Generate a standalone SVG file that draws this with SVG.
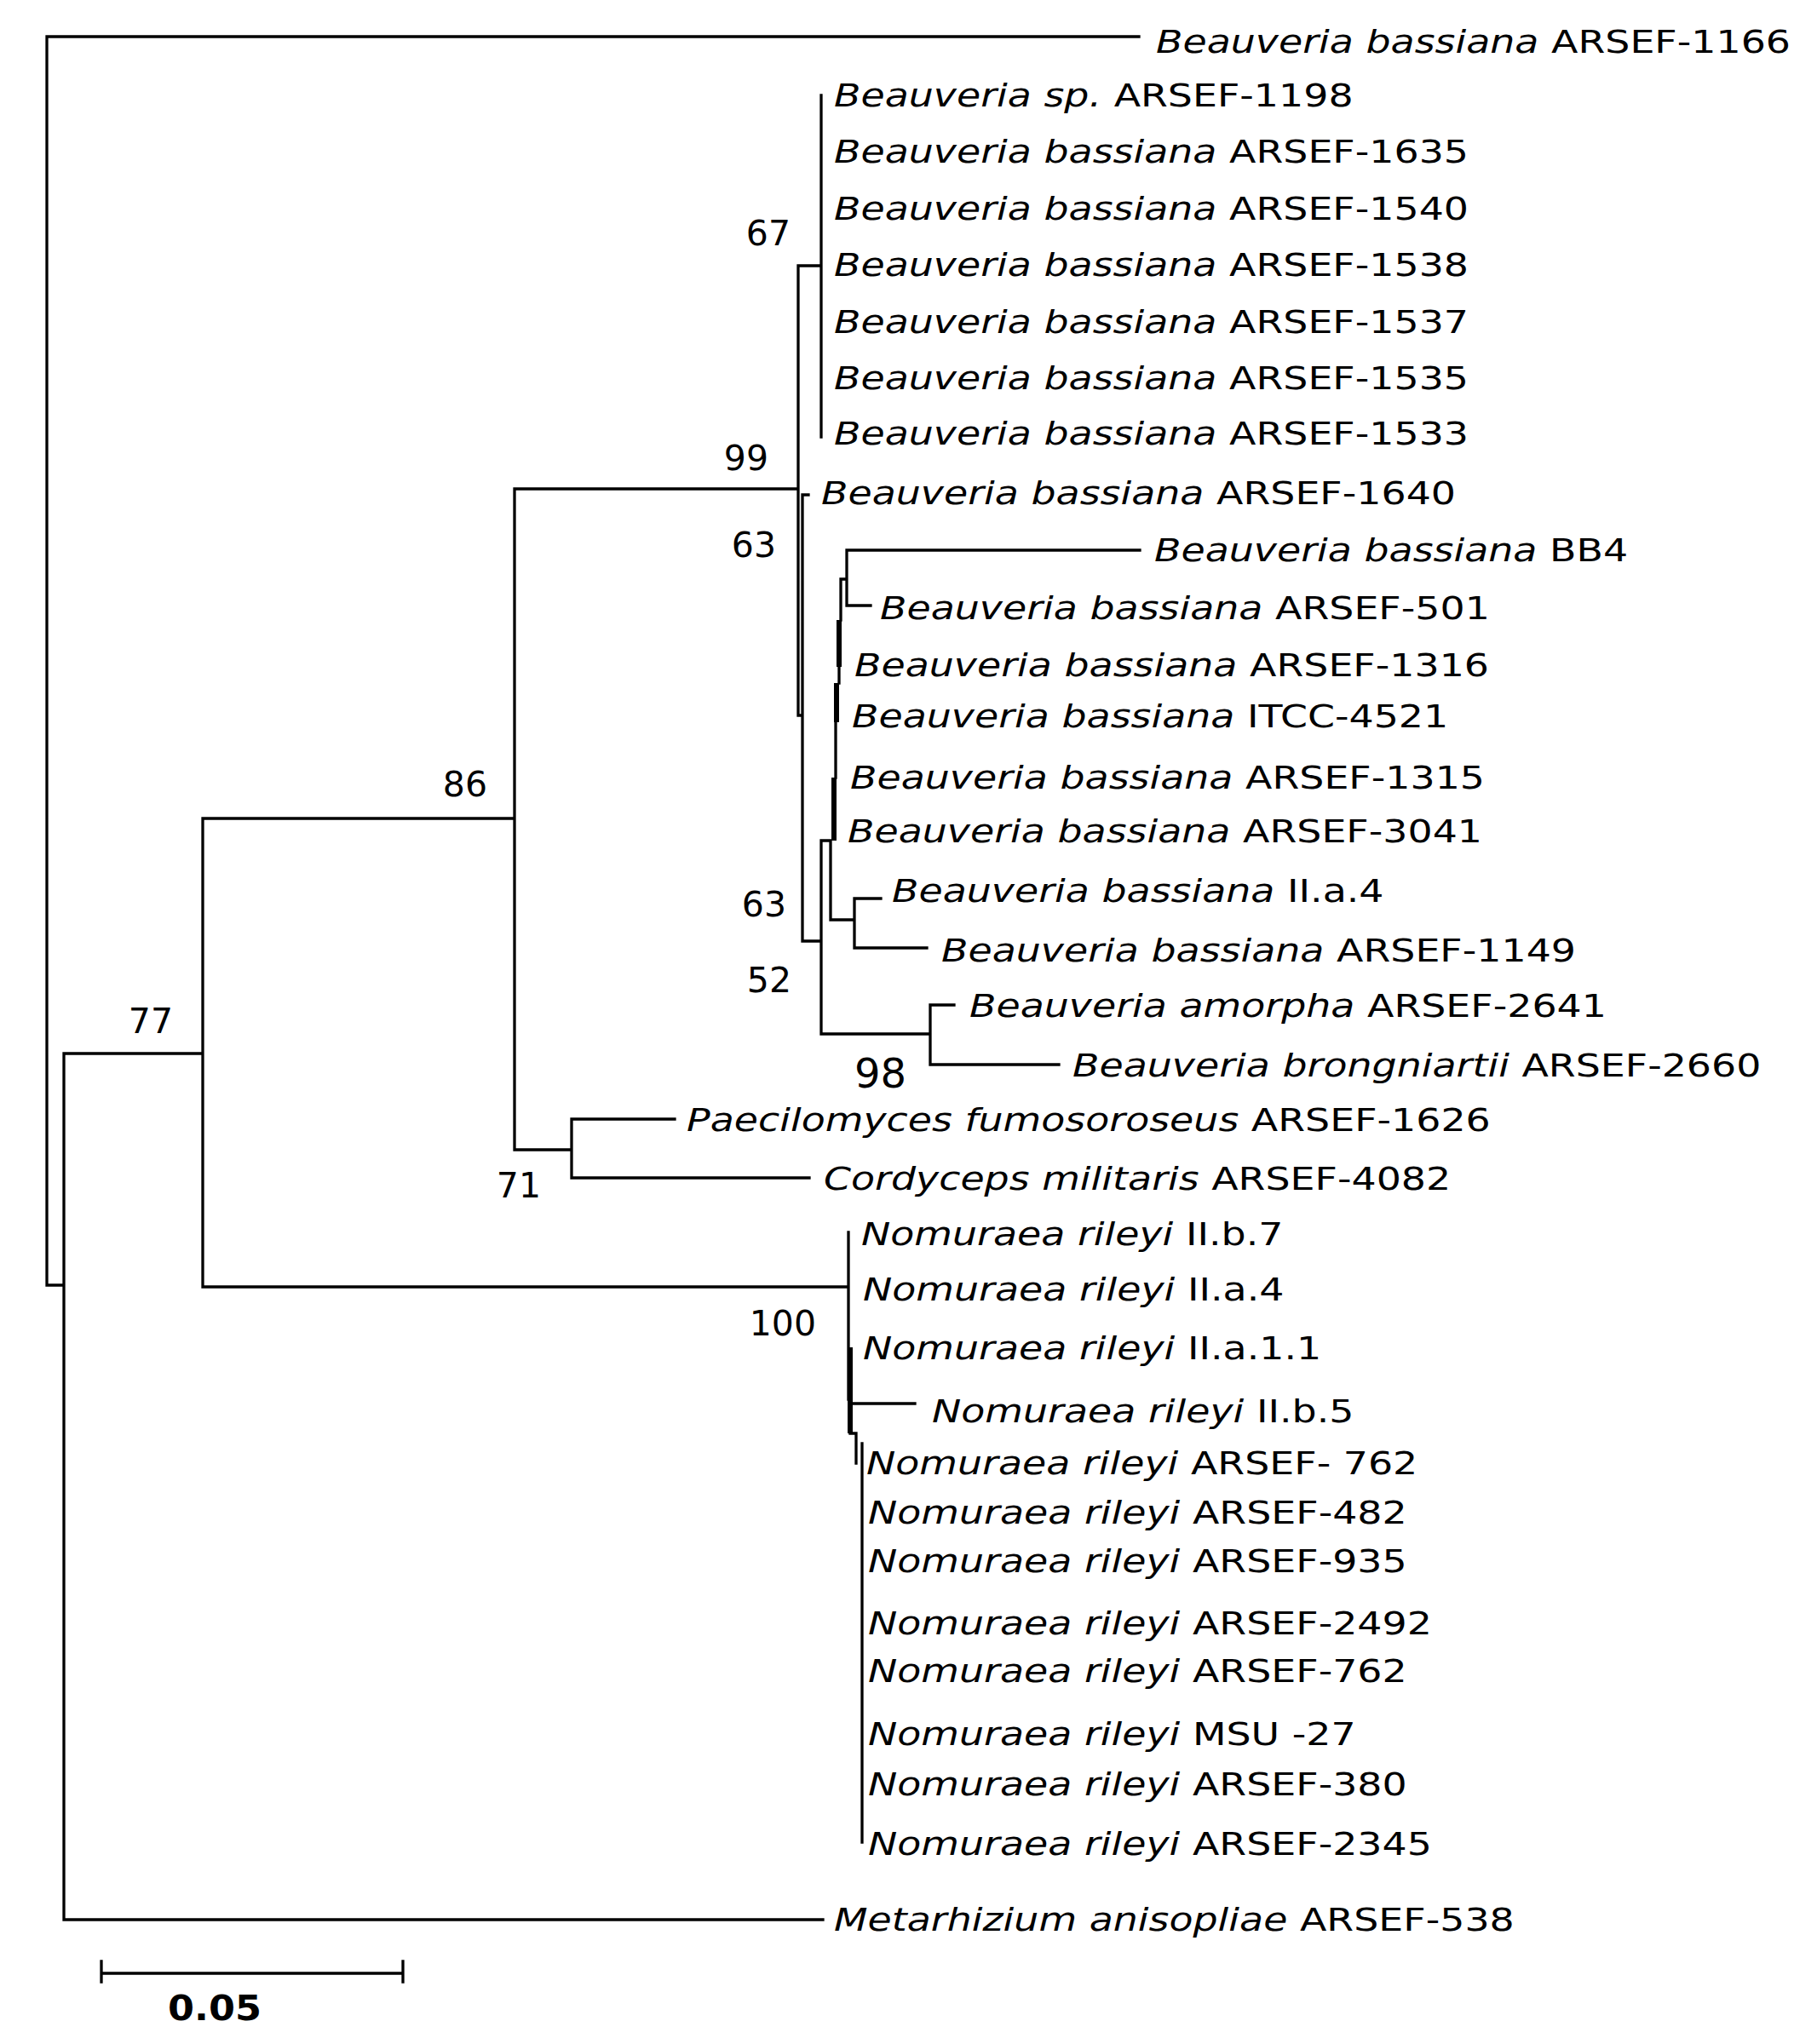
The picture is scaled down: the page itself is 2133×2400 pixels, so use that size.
<svg xmlns="http://www.w3.org/2000/svg" width="2133" height="2400" viewBox="0 0 2133 2400">
<style>
.e{fill:none;stroke:#000;stroke-width:3.3;stroke-linecap:square}
.k{fill:none;stroke:#000;stroke-width:6}
.t{font-family:"DejaVu Sans","Liberation Sans",sans-serif;font-size:37px;fill:#000}
.i{font-style:italic}
.n{font-family:"DejaVu Sans","Liberation Sans",sans-serif;font-size:41px;fill:#000;text-anchor:end}
</style>
<rect width="2133" height="2400" fill="#fff"/>
<g id="connectors">
<path class="e" d="M55,43 H1337 M55,43 V1509 H75 M75,1237 V2254 H966 M75,1237 H238 M238,961 V1511 H996 M238,961 H604 M604,574 V1350 H671 M671,1314 V1383 M671,1314 H792 M671,1383 H950 M604,574 H937 M937,312 V840 M937,312 H964 M964,112 V513 M937,840 H942 M942,581 V1105 M942,581 H949 M942,1105 H964 M964,987 V1214 H1092 M1092,1180 V1250 M1092,1180 H1120 M1092,1250 H1243 M964,987 H975 M975,987 V1080 H1003 M1003,1055 V1113 M1003,1055 H1034 M1003,1113 H1088 M981,848 V913 M985,783 V802 M987,680 V728 M987,680 H994 M994,646 V711 M994,646 H1338 M994,711 H1022 M996,1447 V1643 M998,1648 H1074 M998,1683 H1005 V1718 M1012,1695 V2163"/>
<path class="k" d="M979,913 V987 M982,802 V848 M985,728 V783 M998,1582 V1683"/>
</g>
<g id="scale-bar">
<path class="e" d="M119,2317 H473 M119,2303 V2327 M473,2303 V2327"/>
<text x="197" y="2372" font-family="DejaVu Sans, sans-serif" font-size="41" font-weight="bold" textLength="110" lengthAdjust="spacingAndGlyphs">0.05</text>
</g>
<g id="support-values">
<text class="n" x="928" y="288">67</text>
<text class="n" x="902" y="552">99</text>
<text class="n" x="911" y="654">63</text>
<text class="n" x="572" y="935">86</text>
<text class="n" x="203" y="1213">77</text>
<text class="n" x="923" y="1076">63</text>
<text class="n" x="929" y="1165">52</text>
<text class="n" x="1064" y="1277" style="font-size:48px">98</text>
<text class="n" x="635" y="1406">71</text>
<text class="n" x="958" y="1568">100</text>
</g>
<g id="leaf-1166"><text class="t" transform="matrix(1.24 0 0 1 1357 62)"><tspan class="i">Beauveria bassiana</tspan> ARSEF-1166</text></g>
<g id="leaf-1198"><text class="t" transform="matrix(1.24 0 0 1 979 125)"><tspan class="i">Beauveria sp.</tspan> ARSEF-1198</text></g>
<g id="leaf-1635"><text class="t" transform="matrix(1.24 0 0 1 979 191)"><tspan class="i">Beauveria bassiana</tspan> ARSEF-1635</text></g>
<g id="leaf-1540"><text class="t" transform="matrix(1.24 0 0 1 979 258)"><tspan class="i">Beauveria bassiana</tspan> ARSEF-1540</text></g>
<g id="leaf-1538"><text class="t" transform="matrix(1.24 0 0 1 979 324)"><tspan class="i">Beauveria bassiana</tspan> ARSEF-1538</text></g>
<g id="leaf-1537"><text class="t" transform="matrix(1.24 0 0 1 979 391)"><tspan class="i">Beauveria bassiana</tspan> ARSEF-1537</text></g>
<g id="leaf-1535"><text class="t" transform="matrix(1.24 0 0 1 979 457)"><tspan class="i">Beauveria bassiana</tspan> ARSEF-1535</text></g>
<g id="leaf-1533"><text class="t" transform="matrix(1.24 0 0 1 979 522)"><tspan class="i">Beauveria bassiana</tspan> ARSEF-1533</text></g>
<g id="leaf-1640"><text class="t" transform="matrix(1.24 0 0 1 964 592)"><tspan class="i">Beauveria bassiana</tspan> ARSEF-1640</text></g>
<g id="leaf-bb4"><text class="t" transform="matrix(1.24 0 0 1 1355 659)"><tspan class="i">Beauveria bassiana</tspan> BB4</text></g>
<g id="leaf-501"><text class="t" transform="matrix(1.24 0 0 1 1033 727)"><tspan class="i">Beauveria bassiana</tspan> ARSEF-501</text></g>
<g id="leaf-1316"><text class="t" transform="matrix(1.24 0 0 1 1003 794)"><tspan class="i">Beauveria bassiana</tspan> ARSEF-1316</text></g>
<g id="leaf-itcc4521"><text class="t" transform="matrix(1.24 0 0 1 1000 854)"><tspan class="i">Beauveria bassiana</tspan> ITCC-4521</text></g>
<g id="leaf-1315"><text class="t" transform="matrix(1.24 0 0 1 998 926)"><tspan class="i">Beauveria bassiana</tspan> ARSEF-1315</text></g>
<g id="leaf-3041"><text class="t" transform="matrix(1.24 0 0 1 995 989)"><tspan class="i">Beauveria bassiana</tspan> ARSEF-3041</text></g>
<g id="leaf-bb-iia4"><text class="t" transform="matrix(1.24 0 0 1 1047 1059)"><tspan class="i">Beauveria bassiana</tspan> II.a.4</text></g>
<g id="leaf-1149"><text class="t" transform="matrix(1.24 0 0 1 1105 1129)"><tspan class="i">Beauveria bassiana</tspan> ARSEF-1149</text></g>
<g id="leaf-2641"><text class="t" transform="matrix(1.24 0 0 1 1138 1194)"><tspan class="i">Beauveria amorpha</tspan> ARSEF-2641</text></g>
<g id="leaf-2660"><text class="t" transform="matrix(1.24 0 0 1 1259 1264)"><tspan class="i">Beauveria brongniartii</tspan> ARSEF-2660</text></g>
<g id="leaf-1626"><text class="t" transform="matrix(1.24 0 0 1 806 1328)"><tspan class="i">Paecilomyces fumosoroseus</tspan> ARSEF-1626</text></g>
<g id="leaf-4082"><text class="t" transform="matrix(1.24 0 0 1 967 1397)"><tspan class="i">Cordyceps militaris</tspan> ARSEF-4082</text></g>
<g id="leaf-nr-iib7"><text class="t" transform="matrix(1.24 0 0 1 1011 1462)"><tspan class="i">Nomuraea rileyi</tspan> II.b.7</text></g>
<g id="leaf-nr-iia4"><text class="t" transform="matrix(1.24 0 0 1 1013 1527)"><tspan class="i">Nomuraea rileyi</tspan> II.a.4</text></g>
<g id="leaf-nr-iia11"><text class="t" transform="matrix(1.24 0 0 1 1013 1596)"><tspan class="i">Nomuraea rileyi</tspan> II.a.1.1</text></g>
<g id="leaf-nr-iib5"><text class="t" transform="matrix(1.24 0 0 1 1094 1670)"><tspan class="i">Nomuraea rileyi</tspan> II.b.5</text></g>
<g id="leaf-nr-762a"><text class="t" transform="matrix(1.24 0 0 1 1017 1731)"><tspan class="i">Nomuraea rileyi</tspan> ARSEF- 762</text></g>
<g id="leaf-nr-482"><text class="t" transform="matrix(1.24 0 0 1 1019 1789)"><tspan class="i">Nomuraea rileyi</tspan> ARSEF-482</text></g>
<g id="leaf-nr-935"><text class="t" transform="matrix(1.24 0 0 1 1019 1846)"><tspan class="i">Nomuraea rileyi</tspan> ARSEF-935</text></g>
<g id="leaf-nr-2492"><text class="t" transform="matrix(1.24 0 0 1 1019 1919)"><tspan class="i">Nomuraea rileyi</tspan> ARSEF-2492</text></g>
<g id="leaf-nr-762b"><text class="t" transform="matrix(1.24 0 0 1 1019 1975)"><tspan class="i">Nomuraea rileyi</tspan> ARSEF-762</text></g>
<g id="leaf-nr-msu27"><text class="t" transform="matrix(1.24 0 0 1 1019 2049)"><tspan class="i">Nomuraea rileyi</tspan> MSU -27</text></g>
<g id="leaf-nr-380"><text class="t" transform="matrix(1.24 0 0 1 1019 2108)"><tspan class="i">Nomuraea rileyi</tspan> ARSEF-380</text></g>
<g id="leaf-nr-2345"><text class="t" transform="matrix(1.24 0 0 1 1019 2178)"><tspan class="i">Nomuraea rileyi</tspan> ARSEF-2345</text></g>
<g id="leaf-538"><text class="t" transform="matrix(1.24 0 0 1 979 2267)"><tspan class="i">Metarhizium anisopliae</tspan> ARSEF-538</text></g>
</svg>
